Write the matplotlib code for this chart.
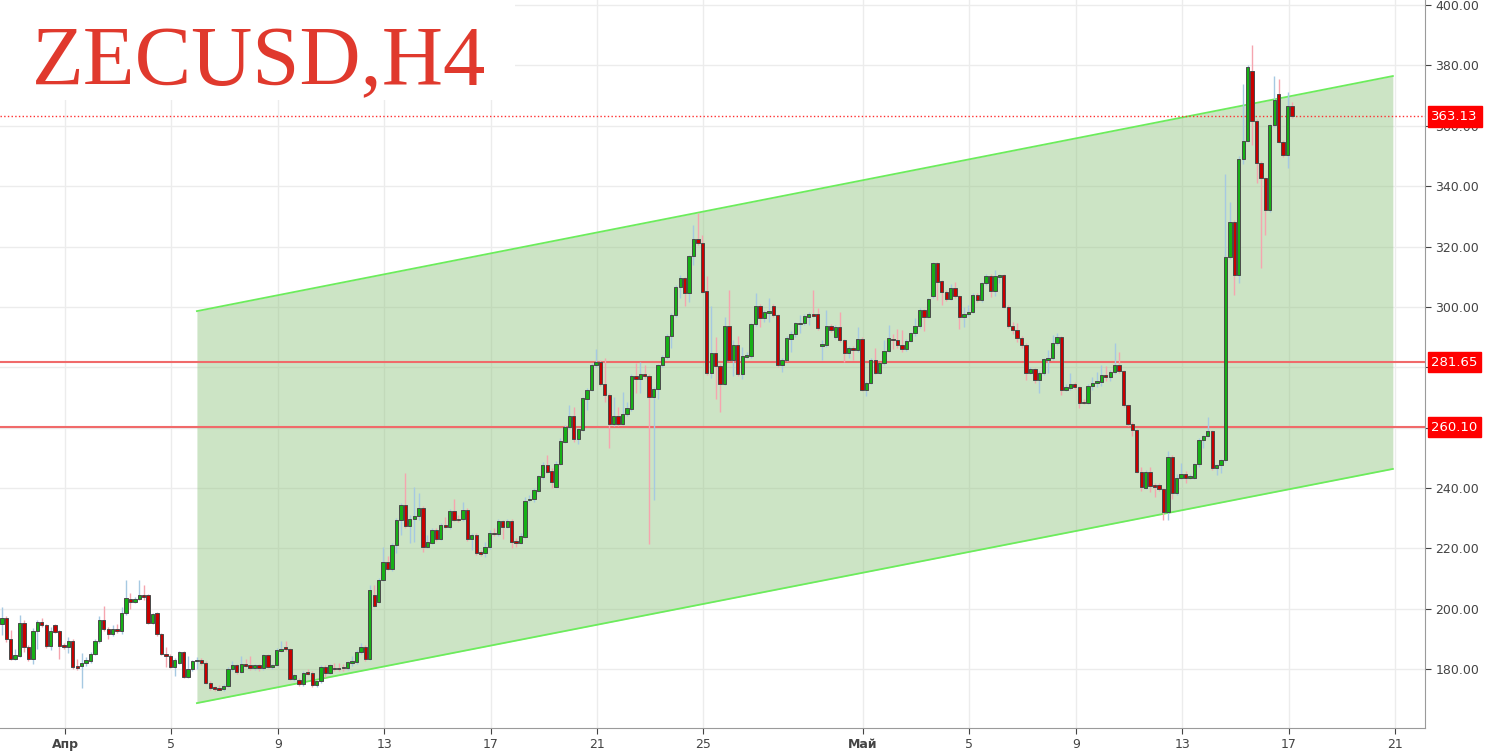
import matplotlib

matplotlib.use("Agg")
import matplotlib.pyplot as plt
import matplotlib.dates as mdates
import pandas as pd
from matplotlib.patches import Rectangle
from matplotlib.transforms import blended_transform_factory

TITLE = "ZECUSD,H4"
FIRST_BAR = "2018-03-29 15:00"

# H4 candles
opens = [
    194.8, 197.0, 189.9, 183.2, 184.3, 195.1, 187.4, 183.2, 192.6, 195.5,
    194.6, 187.6, 194.6, 192.5, 187.8, 187.4, 189.3, 181.0, 181.0, 181.9,
    182.8, 185.0, 189.3, 196.2, 193.1, 191.5, 193.3, 192.6, 198.7, 203.1,
    202.3, 203.1, 204.5, 204.5, 195.3, 198.4, 191.5, 185.0, 184.4, 180.8,
    182.1, 185.7, 177.5, 179.9, 182.5, 183.0, 182.1, 175.5, 173.9, 173.6,
    173.3, 174.4, 179.9, 181.2, 179.1, 181.8, 181.3, 180.2, 181.3, 180.2,
    184.5, 180.6, 181.3, 186.1, 187.4, 186.5, 176.6, 176.4, 174.9, 179.0,
    178.8, 174.6, 176.0, 180.8, 178.6, 180.4, 180.4, 180.8, 180.2, 181.9,
    182.4, 185.7, 187.4, 183.2, 204.5, 202.3, 209.5, 215.3, 213.3, 221.1,
    229.4, 234.3, 227.4, 229.6, 230.7, 233.2, 220.5, 221.9, 226.1, 223.0,
    227.7, 227.2, 232.5, 229.8, 229.6, 232.7, 223.1, 224.4, 218.7, 218.3,
    220.3, 225.2, 224.7, 229.1, 227.2, 229.1, 222.5, 221.9, 223.8, 236.0,
    236.2, 239.1, 243.7, 247.6, 245.7, 240.4, 248.1, 255.3, 260.1, 263.8,
    256.1, 259.2, 269.5, 272.4, 280.7, 281.8, 274.6, 270.8, 261.1, 263.8,
    261.1, 264.5, 266.0, 277.1, 276.2, 277.6, 277.1, 270.2, 272.8, 280.7,
    283.3, 290.4, 297.3, 306.7, 309.5, 304.5, 316.7, 322.4, 321.1, 305.4,
    278.2, 284.8, 280.4, 274.5, 293.7, 282.4, 287.4, 277.8, 283.5, 283.7,
    294.3, 300.3, 296.4, 298.1, 300.3, 297.3, 280.7, 282.4, 289.4, 290.9,
    294.3, 294.5, 296.8, 297.6, 297.6, 287.0, 287.4, 293.8, 289.9, 293.2,
    289.0, 284.8, 286.3, 285.7, 289.4, 272.5, 274.9, 282.4, 278.2, 281.3,
    285.4, 289.5, 289.0, 287.3, 285.9, 288.8, 291.2, 293.6, 298.9, 296.7,
    303.6, 314.4, 308.5, 305.0, 302.6, 306.4, 303.6, 296.7, 297.5, 298.4,
    303.9, 302.2, 307.8, 310.2, 305.2, 310.0, 310.5, 300.0, 293.7, 292.3,
    289.8, 287.4, 278.2, 279.3, 275.8, 278.2, 282.4, 283.0, 287.9, 289.9,
    272.5, 273.0, 274.4, 273.3, 268.6, 268.3, 273.8, 274.7, 275.2, 277.4,
    276.9, 278.3, 280.9, 278.7, 267.4, 261.2, 259.2, 245.4, 240.1, 245.4,
    241.0, 241.0, 239.5, 232.1, 250.3, 238.2, 243.4, 244.6, 243.4, 243.4,
    247.9, 255.9, 257.2, 258.8, 246.5, 247.6, 249.2, 316.6, 328.2, 310.5,
    348.9, 355.1, 378.2, 361.7, 347.8, 342.6, 332.1, 360.2, 370.4, 354.7,
    350.3, 366.5,
]
highs = [
    200.7, 197.5, 192.9, 186.7, 197.9, 196.2, 188.0, 193.5, 196.2, 197.0,
    195.0, 194.0, 195.0, 193.0, 188.5, 190.7, 189.8, 183.2, 185.2, 184.0,
    185.5, 190.0, 197.5, 200.9, 194.0, 194.5, 194.8, 200.7, 209.5, 205.3,
    204.0, 209.5, 207.8, 205.0, 198.5, 198.8, 192.0, 187.4, 185.0, 183.8,
    186.0, 186.0, 184.3, 183.0, 184.1, 183.8, 182.5, 176.0, 174.5, 174.8,
    175.0, 180.5, 182.8, 181.8, 184.3, 183.3, 184.3, 181.8, 181.8, 185.0,
    185.0, 181.8, 186.8, 189.3, 189.3, 187.0, 178.5, 177.0, 179.2, 180.0,
    179.2, 176.5, 181.3, 181.3, 181.8, 182.0, 182.0, 181.5, 182.8, 184.3,
    186.2, 188.5, 188.0, 208.0, 207.8, 210.0, 220.5, 217.5, 221.8, 230.0,
    235.0, 244.8, 231.0, 240.4, 238.2, 234.0, 224.4, 226.8, 226.6, 228.3,
    230.5, 233.0, 236.5, 231.0, 235.4, 233.3, 225.0, 225.0, 219.5, 222.2,
    226.0, 226.6, 229.8, 229.5, 229.6, 229.6, 223.5, 225.0, 237.0, 237.6,
    240.0, 244.3, 248.7, 250.9, 246.5, 249.0, 256.5, 261.0, 267.5, 266.9,
    260.0, 270.3, 273.0, 281.5, 285.9, 282.5, 282.9, 271.5, 270.0, 266.9,
    271.9, 268.6, 277.8, 281.3, 281.8, 280.7, 277.6, 273.3, 281.2, 284.0,
    291.0, 298.0, 307.3, 310.6, 310.0, 317.3, 327.1, 331.1, 323.8, 310.2,
    300.3, 290.1, 281.0, 296.8, 305.6, 289.0, 290.4, 286.8, 285.0, 294.8,
    304.5, 300.8, 299.0, 302.8, 300.8, 297.8, 283.0, 290.2, 292.0, 295.0,
    297.2, 297.5, 298.2, 305.6, 299.5, 289.0, 299.0, 294.3, 294.0, 298.4,
    289.5, 287.0, 287.0, 293.4, 290.0, 275.5, 283.0, 286.3, 281.8, 289.0,
    294.0, 291.0, 292.8, 292.3, 289.5, 291.8, 296.2, 299.5, 299.3, 303.0,
    315.0, 314.9, 309.0, 305.5, 307.5, 308.3, 304.0, 300.0, 300.6, 304.5,
    304.5, 308.3, 311.0, 310.8, 312.2, 311.0, 311.0, 300.5, 295.1, 294.5,
    290.3, 287.9, 280.0, 279.8, 278.8, 283.0, 285.7, 290.7, 291.5, 290.4,
    274.3, 278.0, 275.2, 273.8, 269.5, 274.4, 276.9, 278.5, 280.7, 280.5,
    279.0, 287.9, 285.1, 279.2, 267.9, 261.7, 259.7, 247.0, 246.0, 247.1,
    241.5, 241.5, 240.0, 252.3, 250.8, 244.5, 248.3, 245.5, 244.5, 248.4,
    256.5, 257.7, 263.6, 259.3, 248.0, 249.7, 344.2, 334.8, 328.8, 350.0,
    374.0, 380.2, 386.7, 362.2, 348.3, 343.1, 360.7, 376.5, 375.4, 355.2,
    371.3, 368.0,
]
lows = [
    191.3, 189.0, 183.0, 183.0, 184.0, 185.7, 182.5, 181.5, 186.5, 194.0,
    187.0, 186.3, 192.0, 183.2, 186.5, 185.4, 180.0, 179.6, 173.6, 181.0,
    182.0, 184.5, 188.5, 192.5, 190.0, 191.0, 192.0, 191.5, 198.0, 199.8,
    202.0, 202.8, 202.9, 195.0, 195.0, 191.0, 184.5, 180.8, 180.3, 177.7,
    181.5, 177.0, 177.0, 179.5, 180.0, 181.3, 175.0, 173.0, 172.8, 173.0,
    172.8, 174.0, 179.5, 178.5, 178.8, 180.5, 179.8, 179.8, 179.5, 179.8,
    180.3, 180.0, 181.0, 185.8, 186.0, 176.2, 176.0, 174.3, 174.5, 178.0,
    174.0, 174.2, 175.5, 177.3, 178.2, 179.5, 179.5, 179.5, 179.8, 181.0,
    181.8, 185.0, 182.8, 183.0, 200.5, 201.8, 209.0, 212.8, 212.5, 218.3,
    224.4, 226.8, 221.6, 222.0, 229.5, 218.8, 220.0, 221.5, 222.5, 222.8,
    226.8, 226.5, 229.0, 228.8, 229.2, 222.5, 219.5, 217.8, 217.5, 217.0,
    219.8, 224.0, 224.2, 223.0, 226.8, 220.2, 220.5, 221.5, 223.5, 235.5,
    235.5, 238.5, 243.0, 244.8, 240.1, 240.0, 247.5, 254.8, 259.5, 255.2,
    254.5, 258.8, 265.8, 272.0, 280.0, 273.8, 268.5, 253.4, 260.5, 260.5,
    260.8, 264.0, 265.5, 271.5, 271.6, 276.5, 221.4, 236.0, 269.5, 280.0,
    282.8, 286.3, 296.8, 303.0, 300.3, 301.7, 314.0, 320.5, 304.5, 277.5,
    276.5, 269.4, 265.3, 274.0, 282.0, 277.2, 277.2, 276.0, 283.0, 283.2,
    293.8, 293.5, 295.1, 295.0, 296.8, 280.0, 278.5, 282.0, 285.2, 290.0,
    291.2, 294.0, 294.0, 296.8, 292.3, 282.4, 286.8, 291.8, 289.5, 288.5,
    281.8, 282.9, 282.3, 285.2, 272.0, 270.5, 274.5, 277.7, 277.8, 280.8,
    285.0, 286.0, 286.5, 285.0, 285.5, 288.3, 290.5, 293.0, 292.0, 296.2,
    303.0, 302.2, 300.5, 302.0, 302.2, 303.1, 292.8, 293.4, 297.0, 298.0,
    301.7, 301.7, 307.3, 303.3, 303.5, 308.0, 299.5, 293.0, 291.0, 288.5,
    286.5, 275.8, 277.7, 274.7, 271.4, 277.5, 278.0, 282.5, 287.5, 270.8,
    272.0, 272.5, 272.8, 266.4, 267.8, 267.9, 272.5, 273.5, 273.9, 275.5,
    275.5, 277.8, 278.0, 266.8, 260.6, 257.2, 244.8, 238.9, 239.5, 238.8,
    237.1, 238.9, 229.3, 229.5, 236.5, 237.5, 243.0, 241.5, 243.0, 243.0,
    247.0, 253.1, 256.8, 246.0, 244.3, 244.8, 248.5, 316.0, 303.9, 307.8,
    347.5, 354.5, 353.6, 340.9, 313.0, 323.8, 331.5, 359.7, 354.2, 349.8,
    345.9, 362.5,
]
closes = [
    197.0, 189.8, 183.2, 184.5, 195.1, 187.4, 183.2, 192.6, 195.5, 194.6,
    187.6, 192.5, 192.4, 187.6, 187.3, 189.3, 180.6, 180.3, 182.1, 183.0,
    185.0, 189.3, 196.2, 193.1, 191.5, 193.3, 192.7, 198.7, 203.4, 202.3,
    203.1, 204.5, 204.2, 195.3, 198.1, 191.5, 184.9, 184.3, 180.8, 183.0,
    185.7, 177.5, 179.9, 182.5, 183.0, 182.1, 175.5, 173.6, 173.4, 173.3,
    174.4, 179.9, 181.2, 179.1, 181.8, 181.1, 180.2, 181.3, 180.2, 184.5,
    180.8, 181.3, 186.3, 186.7, 186.5, 176.6, 177.9, 174.9, 178.8, 178.6,
    174.6, 176.0, 180.8, 178.6, 181.2, 179.9, 180.0, 180.2, 182.2, 182.8,
    185.7, 187.4, 183.2, 206.2, 201.0, 209.5, 215.3, 213.3, 221.1, 229.4,
    234.3, 227.4, 229.6, 230.7, 233.2, 220.5, 222.2, 226.1, 223.0, 227.7,
    227.2, 232.3, 229.4, 229.4, 232.7, 223.1, 224.4, 218.3, 218.3, 220.3,
    225.2, 224.7, 229.1, 227.2, 229.1, 222.2, 221.9, 224.1, 235.8, 236.5,
    239.3, 243.9, 247.6, 245.4, 242.1, 248.1, 255.7, 260.1, 263.8, 256.1,
    259.4, 269.7, 272.4, 280.9, 281.8, 274.4, 270.8, 261.1, 263.8, 261.1,
    264.5, 266.4, 277.1, 276.2, 277.6, 277.1, 270.2, 272.8, 280.7, 283.3,
    290.4, 297.3, 306.7, 309.5, 304.5, 316.7, 322.4, 321.1, 305.1, 278.2,
    284.8, 280.4, 274.5, 293.7, 282.4, 287.4, 277.8, 283.7, 284.2, 294.3,
    300.3, 296.4, 298.4, 298.8, 297.3, 280.7, 282.4, 289.6, 290.9, 294.5,
    294.8, 297.0, 297.6, 297.2, 292.9, 287.6, 293.8, 292.3, 293.2, 289.0,
    284.8, 286.3, 285.7, 289.4, 272.5, 274.9, 282.4, 278.2, 281.3, 285.4,
    289.6, 289.0, 287.3, 285.9, 288.8, 291.2, 293.6, 298.9, 296.7, 302.5,
    314.4, 308.3, 305.0, 302.6, 306.4, 303.6, 296.7, 297.5, 298.4, 303.9,
    302.2, 307.8, 310.2, 305.2, 310.2, 310.5, 300.0, 293.7, 292.3, 289.8,
    287.4, 278.2, 279.3, 275.8, 278.2, 282.6, 283.0, 287.9, 289.9, 272.5,
    273.6, 274.4, 273.3, 268.3, 268.3, 273.8, 274.7, 275.5, 277.4, 276.9,
    278.3, 280.7, 278.7, 267.4, 261.2, 259.2, 245.4, 240.4, 245.4, 240.6,
    240.4, 239.5, 232.1, 250.3, 238.2, 243.4, 244.6, 243.4, 243.7, 247.9,
    255.9, 257.2, 258.8, 246.5, 247.6, 249.2, 316.6, 328.2, 310.5, 348.9,
    355.1, 379.6, 361.7, 347.8, 342.6, 332.1, 360.2, 368.7, 354.7, 350.3,
    366.5, 363.1,
]

level_prices = [363.13, 281.65, 260.10]
level_styles = [":", "-", "-"]

channel_dates = ["2018-04-05 23:00", "2018-05-20 22:00"]
channel_upper = [298.6, 376.5]
channel_lower = [168.7, 246.3]

tick_dates = [
    "2018-04-01", "2018-04-05", "2018-04-09", "2018-04-13", "2018-04-17", "2018-04-21",
    "2018-04-25", "2018-05-01", "2018-05-05", "2018-05-09", "2018-05-13", "2018-05-17",
    "2018-05-21",
]
tick_labels = ["Апр", "5", "9", "13", "17", "21", "25", "Май", "5", "9", "13", "17", "21"]
price_ticks = [180, 200, 220, 240, 260, 280, 300, 320, 340, 360, 380, 400]
# these axis labels sit under the red price boxes in the original
hidden_price_labels = [260, 280]

BULL = "#16b016"
BEAR = "#c80000"
BULL_WICK = "#a6c9e2"
BEAR_WICK = "#f5a5af"
LEVEL = "#f06a6a"


def _draw_candles(ax, x) -> None:
    up = [c >= o for o, c in zip(opens, closes)]
    for flag, wick_color in ((True, BULL_WICK), (False, BEAR_WICK)):
        idx = [i for i, u in enumerate(up) if u == flag]
        ax.vlines([x[i] for i in idx], [lows[i] for i in idx], [highs[i] for i in idx],
                  color=wick_color, linewidth=1.0, zorder=4)
    heights = []
    for o, c in zip(opens, closes):
        h = c - o
        if abs(h) < 0.5:
            h = 0.5 if h >= 0 else -0.5
        heights.append(h)
    colors = [BULL if u else BEAR for u in up]
    ax.bar(x, heights, bottom=opens, width=0.125, color=colors,
           edgecolor="#4a4a4a", linewidth=0.7, zorder=5)


def main() -> None:
    fig = plt.figure(figsize=(14.9, 7.56), dpi=100)
    ax = fig.add_axes([0.0, 28 / 756, 1425 / 1490, 728 / 756])

    x = mdates.date2num(pd.date_range(FIRST_BAR, periods=len(closes), freq="4h"))
    ax.set_xlim(mdates.datestr2num("2018-03-29 13:20"), mdates.datestr2num("2018-05-22 03:00"))
    ax.set_ylim(160.45, 401.7)

    # channel
    cx = mdates.datestr2num(channel_dates)
    ax.fill_between(cx, channel_lower, channel_upper, color="#8fc47f", alpha=0.45,
                    linewidth=0, zorder=2)
    ax.plot(cx, channel_upper, color="#6cec5c", linewidth=1.3, zorder=3)
    ax.plot(cx, channel_lower, color="#6cec5c", linewidth=1.3, zorder=3)

    for price, style in zip(level_prices, level_styles):
        ax.axhline(price, color="#ff3030" if style == ":" else LEVEL,
                   linestyle=style, linewidth=1.0 if style == ":" else 1.5, zorder=3)

    _draw_candles(ax, x)

    ax.set_xticks(mdates.datestr2num(tick_dates))
    ax.set_xticklabels(tick_labels)
    for label in ax.get_xticklabels():
        if label.get_text() in ("Апр", "Май"):
            label.set_fontweight("bold")
    ax.set_yticks(price_ticks)
    ax.set_yticklabels(["" if p in hidden_price_labels else f"{p:.2f}" for p in price_ticks])
    ax.yaxis.tick_right()
    ax.tick_params(axis="both", labelsize=9, colors="#444444", length=4, width=0.8)
    ax.tick_params(axis="x", pad=3)
    ax.grid(True, color="#ececec", linewidth=1.0, zorder=0)
    ax.set_axisbelow(True)
    for side in ("left", "top"):
        ax.spines[side].set_visible(False)
    for side in ("right", "bottom"):
        ax.spines[side].set_color("#9a9a9a")

    # price boxes on the axis
    trans = blended_transform_factory(ax.transAxes, ax.transData)
    for price in level_prices:
        ax.text(1.0045, price, f"{price:.2f}", transform=trans, ha="left", va="center",
                fontsize=9.5, color="white", clip_on=False, zorder=10,
                bbox=dict(boxstyle="square,pad=0.28", facecolor="#ff0000", edgecolor="#ff0000"))

    # title block
    ax.add_patch(Rectangle((0, 1 - 100 / 728), 515 / 1425, 100 / 728, transform=ax.transAxes,
                           facecolor="white", edgecolor="none", zorder=6))
    fig.text(32 / 1490, 1 - 85 / 756, TITLE, family="Liberation Serif", fontsize=61,
             color="#e0392d", va="baseline", ha="left", zorder=20)

    fig.savefig("out.png", dpi=100)
    plt.close(fig)


if __name__ == "__main__":
    main()
